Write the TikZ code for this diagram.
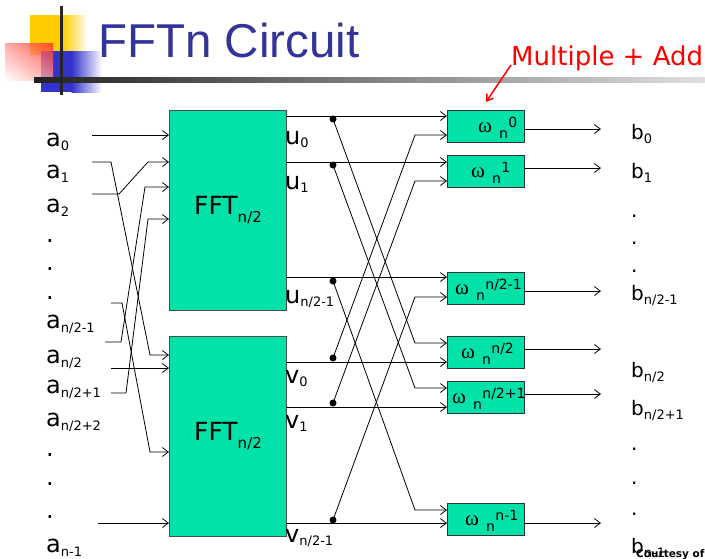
\documentclass[tikz,border=0pt]{standalone}
\usepackage{fontspec}
\setmainfont{DejaVu Sans}
\newfontfamily\titlefont{Liberation Sans}
\newfontfamily\omfont{Liberation Serif}
\usetikzlibrary{arrows.meta,shadings}
\definecolor{boxgreen}{RGB}{0,226,168}
\definecolor{titleblue}{RGB}{51,51,153}
\definecolor{decoyellow}{RGB}{255,204,0}
\definecolor{decoblue}{RGB}{51,51,204}
\definecolor{decored}{RGB}{255,40,30}
\newcommand\subA[2]{#1\raisebox{-4pt}{\fontsize{13}{13}\selectfont #2}}
\newcommand\subU[2]{#1\raisebox{-3pt}{\fontsize{13}{13}\selectfont #2}}
\newcommand\omlab[1]{{\omfont\fontsize{21}{21}\selectfont ω}\hspace{7pt}\raisebox{-6pt}{\fontsize{14}{14}\selectfont n}\hspace{0.5pt}\raisebox{5pt}{\fontsize{14}{14}\selectfont #1}}
\tikzset{
  wire/.style={line width=0.8pt, draw=black},
  arr/.style={wire, -{Straight Barb[length=6pt,width=9pt]}},
  fftbox/.style={draw=black!70, line width=1pt, fill=boxgreen, inner sep=0pt,
    minimum width=117pt, minimum height=200pt, anchor=north west,
    font=\fontsize{25}{25}\selectfont},
  wbox/.style={draw=black!80, line width=1pt, fill=boxgreen, inner sep=0pt,
    minimum width=77pt, minimum height=32pt, anchor=north west},
  lbl/.style={inner sep=0pt, anchor=base west, font=\fontsize{24}{24}\selectfont},
  blbl/.style={inner sep=0pt, anchor=base west, font=\fontsize{20}{20}\selectfont},
  omtext/.style={inner sep=0pt, anchor=base west},
  jdot/.style={circle, fill=black, inner sep=0pt, minimum size=7pt},
}
\begin{document}
\begin{tikzpicture}[x=1pt,y=-1pt]
\useasboundingbox (0,0) rectangle (705,558);
\clip (0,0) rectangle (705,558);
\fill[white] (0,0) rectangle (705,558);
% ---- decoration
\fill[decoyellow] (30,15) rectangle (63,55);
\shade[left color=decoyellow, right color=white] (62.5,15) rectangle (88,55);
\fill[decoblue] (41,51) rectangle (72,92);
\shade[left color=decoblue, right color=white] (71.5,51) rectangle (102,92);
\shade[opacity=0.78, upper right=decored, upper left=decored!50!white,
  lower right=decored!45!white, lower left=white] (5,43) rectangle (53,80);
\shade[left color=black!87, right color=black!12] (34,77) rectangle (705,82);
\draw[line width=3pt, black!85] (61,6) -- (61,95);
% ---- titles
\node[anchor=base west, inner sep=0pt, text=titleblue,
  font=\titlefont\fontsize{47.5}{47.5}\selectfont] (title) at (98,57) {FFTn Circuit};
\node[anchor=base west, inner sep=0pt, text=red,
  font=\fontsize{26}{26}\selectfont] (ma) at (511,65) {Multiple + Add};
\coordinate (matip) at (486,102);
\draw[red, line width=1.5pt, -{Straight Barb[length=6pt,width=8pt]}] (ma.base west) -- (matip);
% ---- FFT boxes
\node[fftbox] (T) at (169,110) {FFT\raisebox{-8pt}{\fontsize{15}{15}\selectfont n/2}};
\node[fftbox] (B) at (169,336) {FFT\raisebox{-8pt}{\fontsize{15}{15}\selectfont n/2}};
% ---- omega boxes
\node[wbox] (W0) at (447,110) {};
\node[wbox] (W1) at (447,155) {};
\node[wbox] (W2) at (447,272) {};
\node[wbox] (W3) at (447,336) {};
\node[wbox] (W4) at (447,381) {};
\node[wbox] (W5) at (447,503) {};
\node[omtext] (L0) at (478,132) {\omlab{0}};
\node[omtext] (L1) at (471,177) {\omlab{1}};
\node[omtext] (L2) at (455,294) {\omlab{n/2-1}};
\node[omtext] (L3) at (461,358) {\omlab{n/2}};
\node[omtext] (L4) at (452,403) {\omlab{n/2+1}};
\node[omtext] (L5) at (465,525) {\omlab{n-1}};
% ---- ports
\coordinate (T1) at (169,135); \coordinate (T2) at (169,162);
\coordinate (T3) at (169,187); \coordinate (T4) at (169,219);
\coordinate (B1) at (169,355); \coordinate (B2) at (169,368);
\coordinate (B3) at (169,452); \coordinate (B4) at (169,523);
\coordinate (U0) at (286,116); \coordinate (U1) at (286,162); \coordinate (U2) at (286,277);
\coordinate (V0) at (286,362); \coordinate (V1) at (286,407); \coordinate (V2) at (286,523);
\coordinate (w0a) at (447,116); \coordinate (w0b) at (447,135);
\coordinate (w1a) at (447,162); \coordinate (w1b) at (447,181);
\coordinate (w2a) at (447,277); \coordinate (w2b) at (447,297);
\coordinate (w3a) at (447,343); \coordinate (w3b) at (447,362);
\coordinate (w4a) at (447,388); \coordinate (w4b) at (447,407);
\coordinate (w5a) at (447,510); \coordinate (w5b) at (447,523);
\coordinate (o0) at (601,129); \coordinate (o1) at (601,168); \coordinate (o2) at (601,291);
\coordinate (o3) at (601,349); \coordinate (o4) at (601,394); \coordinate (o5) at (601,523);
% ---- input wires
\coordinate (ia0) at (92,135); \coordinate (ia1) at (92,162); \coordinate (ia2) at (92,194);
\coordinate (ic4) at (105,342); \coordinate (ic5) at (111,393); \coordinate (ic6) at (111,303);
\coordinate (ic7) at (111,368); \coordinate (ic8) at (98,523);
\draw[arr] (ia0) -- (T1);
\draw[arr] (ia1) -- (111,162) -- (150,355) -- (B1);
\draw[arr] (ia2) -- (119,194) -- (148,162) -- (T2);
\draw[arr] (ic4) -- (121,342) -- (145,187) -- (T3);
\draw[arr] (ic5) -- (126,393) -- (148,219) -- (T4);
\draw[arr] (ic6) -- (122,303) -- (150,452) -- (B3);
\draw[arr] (ic7) -- (B2);
\draw[arr] (ic8) -- (B4);
% ---- butterfly
\draw[arr] (U0) -- (w0a); \draw[arr] (U1) -- (w1a); \draw[arr] (U2) -- (w2a);
\draw[arr] (V0) -- (w3b); \draw[arr] (V1) -- (w4b); \draw[arr] (V2) -- (w5b);
\coordinate (du0) at (333,119); \coordinate (du1) at (333,165); \coordinate (du2) at (333,281);
\coordinate (dv0) at (333,358); \coordinate (dv1) at (333,403); \coordinate (dv2) at (333,520);
\draw[arr] (du0) -- (415,343) -- (w3a);
\draw[arr] (du1) -- (415,388) -- (w4a);
\draw[arr] (du2) -- (415,510) -- (w5a);
\draw[arr] (dv0) -- (415,135) -- (w0b);
\draw[arr] (dv1) -- (415,181) -- (w1b);
\draw[arr] (dv2) -- (415,297) -- (w2b);
\foreach \d in {du0,du1,du2,dv0,dv1,dv2} \node[jdot] at (\d) {};
% ---- outputs
\draw[arr] (W0.east |- o0) -- (o0);
\draw[arr] (W1.east |- o1) -- (o1);
\draw[arr] (W2.east |- o2) -- (o2);
\draw[arr] (W3.east |- o3) -- (o3);
\draw[arr] (W4.east |- o4) -- (o4);
\draw[arr] (W5.east |- o5) -- (o5);
% ---- a labels
\node[lbl] (a0) at (46,146) {\subA{a}{0}};
\node[lbl] (a1) at (46,178) {\subA{a}{1}};
\node[lbl] (a2) at (46,212) {\subA{a}{2}};
\node[lbl] (ad1) at (46,242) {.};
\node[lbl] (ad2) at (46,270) {.};
\node[lbl] (ad3) at (46,299) {.};
\node[lbl] (a3) at (46,328) {\subA{a}{n/2-1}};
\node[lbl] (a4) at (46,363) {\subA{a}{n/2}};
\node[lbl] (a5) at (46,393) {\subA{a}{n/2+1}};
\node[lbl] (a6) at (46,426) {\subA{a}{n/2+2}};
\node[lbl] (ad4) at (46,456) {.};
\node[lbl] (ad5) at (46,485) {.};
\node[lbl] (ad6) at (46,518) {.};
\node[lbl] (a7) at (46,552) {\subA{a}{n-1}};
% ---- u / v labels
\node[lbl] (u0) at (285,144) {\subU{u}{0}};
\node[lbl] (u1) at (285,189) {\subU{u}{1}};
\node[lbl] (u2) at (285,303) {\subU{u}{n/2-1}};
\node[lbl] (v0) at (285,383) {\subU{v}{0}};
\node[lbl] (v1) at (285,428) {\subU{v}{1}};
\node[lbl] (v2) at (285,542) {\subU{v}{n/2-1}};
% ---- b labels
\node[blbl] (b0) at (631,139) {\subA{b}{0}};
\node[blbl] (b1) at (631,178) {\subA{b}{1}};
\node[blbl] (bd1) at (631,217) {.};
\node[blbl] (bd2) at (631,244) {.};
\node[blbl] (bd3) at (631,272) {.};
\node[blbl] (b2) at (631,300) {\subA{b}{n/2-1}};
\node[blbl] (b3) at (631,377) {\subA{b}{n/2}};
\node[blbl] (b4) at (631,415) {\subA{b}{n/2+1}};
\node[blbl] (bd4) at (631,450) {.};
\node[blbl] (bd5) at (631,484) {.};
\node[blbl] (bd6) at (631,515) {.};
\node[blbl] (b5) at (631,553) {\subA{b}{n-1}};
\node[anchor=base west, inner sep=0pt, font=\bfseries\fontsize{10.5}{10.5}\selectfont] (court) at (636,557) {Courtesy of};
\end{tikzpicture}
\end{document}
